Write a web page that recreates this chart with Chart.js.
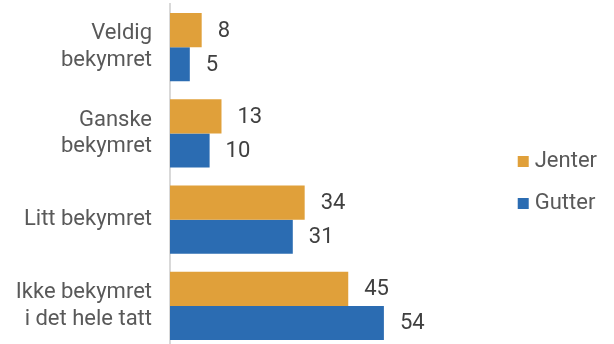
<!DOCTYPE html>
<html>
<head>
<meta charset="utf-8">
<script src="https://cdn.jsdelivr.net/npm/chart.js@4/dist/chart.umd.min.js"></script>
<style>
  html, body { margin: 0; padding: 0; background: #fff; overflow: hidden; }
  #wrap { width: 614px; height: 350px; position: relative; }
</style>
</head>
<body>
<div id="wrap"><canvas id="chart"></canvas></div>
<script>
const categories = [
  ['Veldig', 'bekymret'],
  ['Ganske', 'bekymret'],
  'Litt bekymret',
  ['Ikke bekymret', 'i det hele tatt']
];
const jenter = [8, 13, 34, 45];
const gutter = [5, 10, 31, 54];

const FONT = 'Roboto, "Noto Sans", sans-serif';

// draws the value next to the end of each bar
const valueLabels = {
  id: 'valueLabels',
  afterDatasetsDraw(chart) {
    const ctx = chart.ctx;
    ctx.save();
    ctx.font = '22px ' + FONT;
    ctx.fillStyle = '#404040';
    ctx.textAlign = 'left';
    ctx.textBaseline = 'middle';
    chart.data.datasets.forEach((ds, i) => {
      chart.getDatasetMeta(i).data.forEach((bar, j) => {
        ctx.fillText(ds.data[j], bar.x + 16, bar.y + 1);
      });
    });
    ctx.restore();
  }
};

new Chart(document.getElementById('chart'), {
  type: 'bar',
  data: {
    labels: categories,
    datasets: [
      { label: 'Jenter', data: jenter, backgroundColor: '#E0A03A', categoryPercentage: 0.79, barPercentage: 1.0 },
      { label: 'Gutter', data: gutter, backgroundColor: '#2B6CB2', categoryPercentage: 0.79, barPercentage: 1.0 }
    ]
  },
  options: {
    indexAxis: 'y',
    responsive: true,
    maintainAspectRatio: false,
    animation: false,
    layout: { padding: { top: 4, bottom: 1, left: 0, right: 7 } },
    scales: {
      x: {
        display: false,
        min: 0,
        max: 84
      },
      y: {
        grid: { display: false, drawTicks: false },
        border: { display: true, color: '#D9D9D9', width: 2 },
        ticks: {
          color: '#595959',
          padding: 18,
          font: { family: FONT, size: 22, lineHeight: 1.2 }
        },
        afterFit(scale) {
          scale.width = 170;
          scale.paddingTop = 0;
          scale.paddingBottom = 0;
        }
      }
    },
    plugins: {
      legend: {
        position: 'right',
        title: { display: true, text: '', padding: 0, font: { size: 10, lineHeight: 1.2 } },
        labels: {
          usePointStyle: true,
          pointStyle: 'rect',
          boxWidth: 1,
          boxHeight: 11,
          padding: 20,
          color: '#595959',
          font: { family: FONT, size: 22 }
        }
      },
      tooltip: { enabled: false }
    }
  },
  plugins: [valueLabels]
});
</script>
</body>
</html>
